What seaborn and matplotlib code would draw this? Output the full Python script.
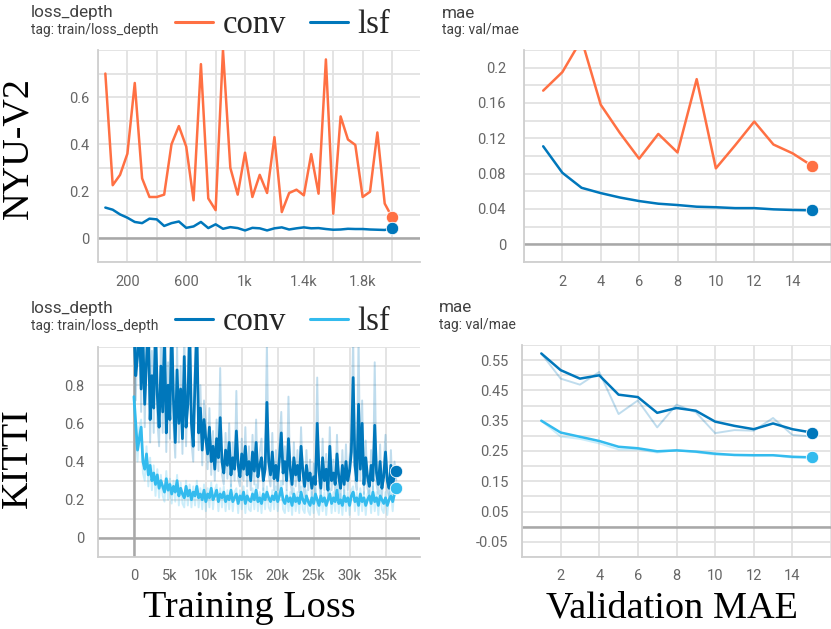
import numpy as np
import pandas as pd
import matplotlib
matplotlib.use("Agg")
import matplotlib.pyplot as plt
import matplotlib.ticker as ticker
import seaborn as sns

# NYU-V2 training loss (every 50 steps)
nyu_steps = np.arange(50, 2001, 50)
nyu_loss_conv = [0.70, 0.226, 0.27, 0.36, 0.66, 0.255, 0.176, 0.176, 0.186, 0.40,
                 0.477, 0.39, 0.162, 0.74, 0.17, 0.12, 0.80, 0.30, 0.186, 0.364,
                 0.176, 0.27, 0.193, 0.43, 0.112, 0.193, 0.207, 0.183, 0.358, 0.19,
                 0.76, 0.105, 0.518, 0.42, 0.397, 0.176, 0.198, 0.45, 0.148, 0.09]
nyu_loss_lsf = [0.131, 0.122, 0.102, 0.088, 0.070, 0.065, 0.084, 0.081, 0.053, 0.065,
                0.072, 0.045, 0.051, 0.070, 0.044, 0.060, 0.041, 0.048, 0.044, 0.034,
                0.045, 0.043, 0.034, 0.043, 0.047, 0.038, 0.043, 0.047, 0.043, 0.044,
                0.040, 0.037, 0.038, 0.041, 0.040, 0.040, 0.038, 0.037, 0.036, 0.044]

# NYU-V2 validation MAE (per epoch)
epochs = np.arange(1, 16)
nyu_mae_conv = [0.174, 0.195, 0.232, 0.158, 0.126, 0.097, 0.125, 0.104, 0.187, 0.086,
                0.112, 0.139, 0.113, 0.103, 0.089]
nyu_mae_lsf = [0.111, 0.081, 0.064, 0.058, 0.053, 0.049, 0.046, 0.0445, 0.0426, 0.042,
               0.041, 0.041, 0.0396, 0.0389, 0.0385]

# KITTI training loss (every 250 steps), smoothed + raw
kitti_steps = np.arange(0, 36501, 250)
kitti_loss_conv = [
    1.10, 0.85, 0.95, 1.20, 0.78, 1.05, 0.70, 0.92, 1.15, 0.62,
    0.85, 0.68, 1.12, 0.75, 0.58, 0.90, 0.66, 1.08, 0.55, 0.80,
    0.62, 1.12, 0.72, 0.50, 0.88, 0.60, 0.78, 0.52, 0.95, 0.58,
    0.70, 1.10, 0.60, 0.48, 0.82, 1.10, 0.55, 0.68, 0.46, 0.62,
    0.52, 0.44, 0.58, 0.40, 0.48, 0.36, 0.52, 0.42, 0.63, 0.40,
    0.34, 0.46, 0.38, 0.50, 0.33, 0.42, 0.36, 0.56, 0.38, 0.32,
    0.44, 0.36, 0.48, 0.33, 0.40, 0.30, 0.45, 0.35, 0.50, 0.32,
    0.38, 0.42, 0.30, 0.36, 0.71, 0.40, 0.33, 0.45, 0.31, 0.38,
    0.30, 0.42, 0.55, 0.34, 0.40, 0.30, 0.52, 0.36, 0.28, 0.42,
    0.33, 0.38, 0.30, 0.48, 0.35, 0.27, 0.38, 0.30, 0.34, 0.26,
    0.32, 0.28, 0.60, 0.35, 0.26, 0.42, 0.30, 0.36, 0.25, 0.48,
    0.30, 0.34, 0.28, 0.44, 0.32, 0.26, 0.38, 0.28, 0.40, 0.30,
    0.35, 0.45, 0.84, 0.38, 0.30, 0.70, 0.36, 0.60, 0.28, 0.42,
    0.32, 0.27, 0.38, 0.30, 0.59, 0.34, 0.28, 0.40, 0.26, 0.32,
    0.45, 0.30, 0.26, 0.38, 0.28, 0.33, 0.35]
kitti_loss_conv_raw = [
    1.30, 0.72, 1.05, 1.35, 0.66, 1.20, 0.58, 1.02, 1.30, 0.50,
    0.98, 0.55, 1.25, 0.62, 0.48, 1.05, 0.55, 1.22, 0.45, 0.92,
    0.52, 1.28, 0.60, 0.42, 1.00, 0.50, 0.90, 0.44, 1.10, 0.48,
    0.82, 1.25, 0.50, 0.40, 0.95, 1.22, 0.46, 0.80, 0.38, 0.72,
    0.60, 0.36, 0.68, 0.33, 0.56, 0.30, 0.62, 0.35, 0.89, 0.33,
    0.28, 0.55, 0.31, 0.60, 0.27, 0.50, 0.30, 0.77, 0.31, 0.27,
    0.52, 0.30, 0.58, 0.27, 0.48, 0.25, 0.54, 0.28, 0.62, 0.26,
    0.45, 0.52, 0.25, 0.43, 1.02, 0.33, 0.27, 0.55, 0.25, 0.46,
    0.25, 0.50, 0.66, 0.28, 0.48, 0.25, 0.74, 0.30, 0.23, 0.50,
    0.27, 0.46, 0.24, 0.58, 0.29, 0.22, 0.46, 0.25, 0.41, 0.21,
    0.39, 0.23, 0.84, 0.29, 0.21, 0.52, 0.25, 0.44, 0.20, 0.58,
    0.25, 0.41, 0.23, 0.54, 0.26, 0.21, 0.46, 0.23, 0.49, 0.25,
    0.42, 0.55, 1.05, 0.31, 0.25, 1.05, 0.30, 0.72, 0.23, 0.51,
    0.26, 0.22, 0.46, 0.25, 0.92, 0.28, 0.23, 0.49, 0.21, 0.39,
    0.54, 0.25, 0.21, 0.46, 0.23, 0.40, 0.30]
kitti_loss_lsf = [
    0.74, 0.60, 0.46, 0.52, 0.58, 0.40, 0.36, 0.44, 0.33, 0.38,
    0.30, 0.34, 0.28, 0.33, 0.26, 0.30, 0.27, 0.24, 0.31, 0.25,
    0.28, 0.23, 0.27, 0.24, 0.30, 0.22, 0.26, 0.23, 0.21, 0.27,
    0.22, 0.25, 0.20, 0.24, 0.22, 0.27, 0.21, 0.23, 0.20, 0.25,
    0.19, 0.23, 0.21, 0.26, 0.20, 0.22, 0.25, 0.19, 0.23, 0.21,
    0.24, 0.19, 0.22, 0.20, 0.25, 0.19, 0.21, 0.23, 0.18, 0.22,
    0.20, 0.24, 0.18, 0.22, 0.20, 0.19, 0.23, 0.20, 0.25, 0.19,
    0.21, 0.18, 0.23, 0.20, 0.24, 0.21, 0.19, 0.22, 0.20, 0.24,
    0.19, 0.22, 0.26, 0.20, 0.18, 0.22, 0.19, 0.21, 0.17, 0.23,
    0.19, 0.21, 0.18, 0.24, 0.20, 0.18, 0.22, 0.19, 0.17, 0.21,
    0.18, 0.23, 0.20, 0.17, 0.22, 0.19, 0.21, 0.17, 0.20, 0.23,
    0.18, 0.21, 0.19, 0.25, 0.18, 0.20, 0.17, 0.22, 0.19, 0.21,
    0.17, 0.22, 0.24, 0.19, 0.21, 0.17, 0.23, 0.19, 0.21, 0.17,
    0.20, 0.22, 0.18, 0.24, 0.19, 0.21, 0.17, 0.22, 0.20, 0.18,
    0.21, 0.17, 0.20, 0.22, 0.19, 0.23, 0.26]
kitti_loss_lsf_raw = [
    0.72, 0.55, 0.40, 0.58, 0.62, 0.34, 0.30, 0.48, 0.27, 0.42,
    0.25, 0.38, 0.22, 0.36, 0.21, 0.33, 0.22, 0.19, 0.35, 0.20,
    0.31, 0.18, 0.30, 0.19, 0.33, 0.17, 0.29, 0.18, 0.16, 0.30,
    0.17, 0.28, 0.16, 0.27, 0.17, 0.30, 0.16, 0.26, 0.15, 0.28,
    0.14, 0.26, 0.16, 0.29, 0.15, 0.25, 0.28, 0.14, 0.26, 0.16,
    0.27, 0.14, 0.25, 0.15, 0.28, 0.14, 0.24, 0.26, 0.13, 0.25,
    0.15, 0.27, 0.13, 0.25, 0.15, 0.14, 0.26, 0.15, 0.28, 0.14,
    0.24, 0.13, 0.26, 0.15, 0.27, 0.16, 0.14, 0.25, 0.15, 0.27,
    0.14, 0.25, 0.30, 0.15, 0.13, 0.25, 0.14, 0.24, 0.12, 0.26,
    0.14, 0.24, 0.13, 0.27, 0.15, 0.13, 0.25, 0.14, 0.12, 0.24,
    0.13, 0.26, 0.15, 0.12, 0.25, 0.14, 0.24, 0.12, 0.23, 0.26,
    0.13, 0.24, 0.14, 0.28, 0.13, 0.23, 0.12, 0.25, 0.14, 0.24,
    0.12, 0.25, 0.27, 0.14, 0.24, 0.12, 0.26, 0.14, 0.24, 0.12,
    0.23, 0.25, 0.13, 0.27, 0.14, 0.24, 0.12, 0.25, 0.15, 0.13,
    0.24, 0.12, 0.23, 0.25, 0.14, 0.26, 0.28]

# KITTI validation MAE, smoothed + raw
kitti_mae_conv = [0.572, 0.517, 0.489, 0.500, 0.436, 0.428, 0.376, 0.392, 0.383, 0.347,
                  0.333, 0.322, 0.341, 0.322, 0.311]
kitti_mae_conv_raw = [0.572, 0.489, 0.469, 0.511, 0.372, 0.417, 0.328, 0.403, 0.378, 0.309,
                      0.319, 0.317, 0.359, 0.303, 0.298]
kitti_mae_lsf = [0.350, 0.311, 0.297, 0.283, 0.264, 0.259, 0.249, 0.252, 0.248, 0.241,
                 0.237, 0.236, 0.236, 0.231, 0.229]
kitti_mae_lsf_raw = [0.350, 0.298, 0.290, 0.275, 0.255, 0.255, 0.245, 0.253, 0.246, 0.238,
                     0.236, 0.235, 0.236, 0.228, 0.228]

ORANGE = '#ff7043'
BLUE = '#0077bb'
CYAN = '#33bbee'

sns.set_style("white")
plt.rcParams['font.family'] = ['Roboto', 'DejaVu Sans']

W, H = 831, 629
fig = plt.figure(figsize=(W / 100, H / 100), dpi=100)


def px_axes(x0, y0, x1, y1):
    return fig.add_axes([x0 / W, 1 - y1 / H, (x1 - x0) / W, (y1 - y0) / H])


def k_fmt(v, _):
    if v == 0:
        return '0'
    if abs(v) >= 1000:
        return f'{v / 1000:g}k'
    return f'{v:g}'


def style(ax, xlim, ylim, xmaj, xmin, ymaj, ymin, ypad, xfmt=None, yfmt=None):
    ax.set_xlim(*xlim)
    ax.set_ylim(*ylim)
    ax.xaxis.set_major_locator(ticker.FixedLocator(xmaj))
    ax.xaxis.set_minor_locator(ticker.FixedLocator(xmin))
    ax.yaxis.set_major_locator(ticker.FixedLocator(ymaj))
    ax.yaxis.set_minor_locator(ticker.FixedLocator(ymin))
    if xfmt:
        ax.xaxis.set_major_formatter(ticker.FuncFormatter(xfmt))
    if yfmt:
        ax.yaxis.set_major_formatter(ticker.FuncFormatter(yfmt))
    ax.grid(which='both', color='#e2e2e2', lw=1.3)
    ax.set_axisbelow(True)
    for s in ['top', 'right']:
        ax.spines[s].set_visible(False)
    for s in ['left', 'bottom']:
        ax.spines[s].set_color('#cfcfcf')
        ax.spines[s].set_linewidth(1.3)
    ax.tick_params(which='both', length=3, width=1, color='#cfcfcf',
                   labelcolor='#666666', labelsize=10.5)
    ax.tick_params(axis='x', pad=6)
    ax.tick_params(axis='y', pad=ypad)
    ax.axhline(0, color='#a8a8a8', lw=1.8, zorder=1.5)
    ax.set_xlabel('')
    ax.set_ylabel('')


def draw(ax, x, y, color, label=None, raw=None, lw=1.8):
    if raw is not None:
        sns.lineplot(x=x, y=raw, ax=ax, color=color, lw=1.4, alpha=0.25, legend=False)
    sns.lineplot(x=x, y=y, ax=ax, color=color, lw=lw, label=label, legend=False)
    sns.scatterplot(x=[x[-1]], y=[y[-1]], ax=ax, color=color, s=80,
                    edgecolor='white', linewidth=0.6, zorder=5, legend=False, clip_on=False)


# ---- NYU-V2 training loss
ax1 = px_axes(98, 50, 420, 262)
draw(ax1, nyu_steps, nyu_loss_conv, ORANGE, 'conv')
draw(ax1, nyu_steps, nyu_loss_lsf, BLUE, 'lsf')
style(ax1, (0, 2190), (-0.1, 0.8), [200, 600, 1000, 1400, 1800], [0, 400, 800, 1200, 1600, 2000],
      [0, 0.2, 0.4, 0.6], [-0.1, 0.1, 0.3, 0.5, 0.7, 0.8], 3, xfmt=k_fmt, yfmt=lambda v, _: f'{v:g}')

# ---- NYU-V2 validation MAE
ax2 = px_axes(524, 50, 831, 262)
draw(ax2, epochs, nyu_mae_conv, ORANGE)
draw(ax2, epochs, nyu_mae_lsf, BLUE)
style(ax2, (0, 16), (-0.02, 0.22), list(range(2, 15, 2)), [0, 16],
      [0, 0.04, 0.08, 0.12, 0.16, 0.2], [-0.02, 0.02, 0.06, 0.10, 0.14, 0.18, 0.22], 10,
      yfmt=lambda v, _: f'{v:g}')

# ---- KITTI training loss
ax3 = px_axes(98, 347, 420, 557)
draw(ax3, kitti_steps, kitti_loss_conv, BLUE, 'conv', raw=kitti_loss_conv_raw, lw=2.0)
draw(ax3, kitti_steps, kitti_loss_lsf, CYAN, 'lsf', raw=kitti_loss_lsf_raw, lw=2.0)
style(ax3, (-5000, 39800), (-0.1, 1.0), list(range(0, 35001, 5000)), [-5000],
      [0, 0.2, 0.4, 0.6, 0.8], [-0.1, 0.1, 0.3, 0.5, 0.7, 0.9, 1.0], 7,
      xfmt=k_fmt, yfmt=lambda v, _: f'{v:g}')
ax3.axvline(0, color='#a8a8a8', lw=1.8, zorder=1.5)

# ---- KITTI validation MAE
ax4 = px_axes(522, 345, 831, 557)
draw(ax4, epochs, kitti_mae_conv, BLUE, raw=kitti_mae_conv_raw)
draw(ax4, epochs, kitti_mae_lsf, CYAN, raw=kitti_mae_lsf_raw)
style(ax4, (0, 16), (-0.1, 0.6), list(range(2, 15, 2)), [0, 16],
      [0.55, 0.45, 0.35, 0.25, 0.15, 0.05, -0.05], [-0.1, 0, 0.1, 0.2, 0.3, 0.4, 0.5, 0.6], 7,
      yfmt=lambda v, _: f'{v:.2f}')


# headers
def header(x, y, title, tag):
    fig.text(x / W, 1 - y / H, title, fontsize=12.3, color='#424242', va='center')
    fig.text(x / W, 1 - (y + 17) / H, tag, fontsize=10, color='#424242', va='center')


header(31, 13, 'loss_depth', 'tag: train/loss_depth')
header(442, 13, 'mae', 'tag: val/mae')
header(31, 309, 'loss_depth', 'tag: train/loss_depth')
header(439, 308, 'mae', 'tag: val/mae')

serif = {'family': 'Liberation Serif', 'size': 23.5}
for ax, ypos in [(ax1, 25), (ax3, 322)]:
    leg = ax.legend(loc='center left', bbox_to_anchor=(175 / W, 1 - ypos / H),
                    bbox_transform=fig.transFigure, ncol=2, frameon=False, prop=serif,
                    handlelength=1.15, handletextpad=0.3, columnspacing=0.75,
                    borderpad=0, borderaxespad=0)
    for line in leg.get_lines():
        line.set_linewidth(2.2)
        line.set_alpha(1)

# row labels and column titles
big = {'family': 'Liberation Serif', 'size': 27.5, 'color': 'black'}
fig.text(18 / W, 1 - 148 / H, 'NYU-V2', rotation=90, ha='center', va='center', **big)
fig.text(18 / W, 1 - 458 / H, 'KITTI', rotation=90, ha='center', va='center', **big)
fig.text(249 / W, 1 - 608 / H, 'Training Loss', ha='center', va='center', **big)
fig.text(672 / W, 1 - 608 / H, 'Validation MAE', ha='center', va='center', **big)

fig.savefig('out.png', dpi=100)
